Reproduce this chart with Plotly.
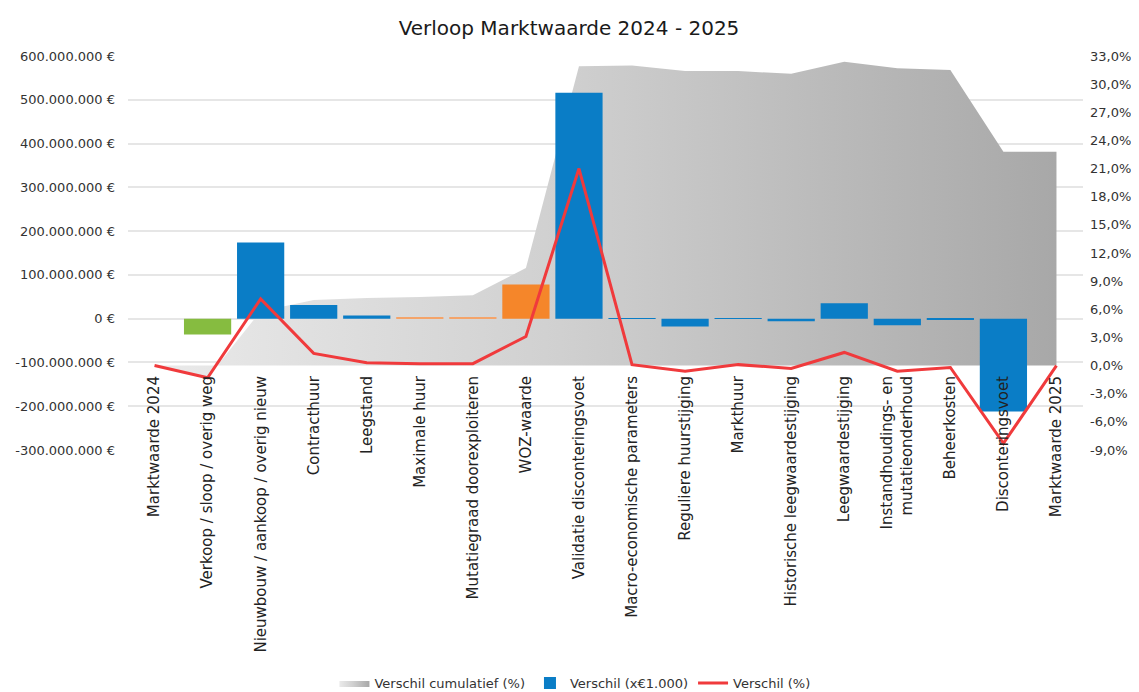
import plotly.graph_objects as go

categories = [
    "Marktwaarde 2024",
    "Verkoop / sloop / overig weg",
    "Nieuwbouw / aankoop / overig nieuw",
    "Contracthuur",
    "Leegstand",
    "Maximale huur",
    "Mutatiegraad doorexploiteren",
    "WOZ-waarde",
    "Validatie disconteringsvoet",
    "Macro-economische parameters",
    "Reguliere huurstijging",
    "Markthuur",
    "Historische leegwaardestijging",
    "Leegwaardestijging",
    "Instandhoudings- en<br>mutatieonderhoud",
    "Beheerkosten",
    "Disconteringsvoet",
    "Marktwaarde 2025",
]

verschil_eur = [0, -36e6, 174e6, 31e6, 7.5e6, 4e6, 4e6, 78e6, 516e6, 1.5e6,
                -18e6, -0.5e6, -6e6, 35e6, -15e6, -3e6, -212e6, 0]
verschil_pct = [0.0, -1.3, 7.1, 1.3, 0.3, 0.2, 0.2, 3.1, 21.0, 0.1,
                -0.6, 0.1, -0.3, 1.4, -0.6, -0.2, -8.3, 0.0]
cumulatief_pct = [0.0, -1.3, 5.8, 7.0, 7.2, 7.3, 7.5, 10.4, 31.9, 32.0,
                  31.4, 31.4, 31.1, 32.4, 31.7, 31.5, 22.8, 22.8]

bar_colors = ["#0A7DC6", "#86BC40", "#0A7DC6", "#0A7DC6", "#0A7DC6", "#F4A46A",
              "#F4A46A", "#F5862A", "#0A7DC6", "#0A7DC6", "#0A7DC6", "#0A7DC6",
              "#0A7DC6", "#0A7DC6", "#0A7DC6", "#0A7DC6", "#0A7DC6", "#0A7DC6"]

left_vals = [-300e6, -200e6, -100e6, 0, 100e6, 200e6, 300e6, 400e6, 500e6, 600e6]
left_text = ["-300.000.000 €", "-200.000.000 €", "-100.000.000 €", "0 €",
             "100.000.000 €", "200.000.000 €", "300.000.000 €", "400.000.000 €",
             "500.000.000 €", "600.000.000 €"]
right_vals = list(range(-9, 34, 3))
right_text = [f"{v},0%" for v in right_vals]

FONT = "DejaVu Sans"
W, H = 1131, 684   # page body has an 8px margin

fig = go.Figure()

fig.add_trace(go.Scatter(
    x=categories, y=cumulatief_pct, yaxis="y", name="Verschil cumulatief (%)",
    mode="lines", line=dict(width=0, color="#c8c8c8"), fill="tozeroy",
    fillgradient=dict(type="horizontal",
                      colorscale=[[0, "#eaeaea"], [0.45, "#d0d0d0"], [1, "#a8a8a8"]]),
    hoverinfo="skip",
))

fig.add_trace(go.Bar(
    x=categories, y=verschil_eur, yaxis="y2", name="Verschil (x€1.000)",
    marker=dict(color=bar_colors, line=dict(width=0)),
))

fig.add_trace(go.Scatter(
    x=categories, y=verschil_pct, yaxis="y3", name="Verschil (%)",
    mode="lines", line=dict(color="#F03A3C", width=3),
))

fig.update_layout(
    width=W, height=H,
    paper_bgcolor="white", plot_bgcolor="white",
    margin=dict(l=120, r=56, t=48, b=242, autoexpand=False),
    font=dict(family=FONT, color="#333333"),
    title=dict(text="Verloop Marktwaarde 2024 - 2025", x=(569 - 8) / W, xref="container",
               xanchor="center", y=1 - 20 / H, yanchor="middle",
               font=dict(size=20, color="#1a1a1a", family=FONT)),
    bargap=0.11,
    showlegend=True,
    legend=dict(orientation="h", x=0.468, xanchor="center",
                y=(442 - 675) / 394, yanchor="middle",
                font=dict(size=13, color="#333333", family=FONT), traceorder="normal",
                itemwidth=30),
    xaxis=dict(type="category", anchor="free", position=(450 - 366) / 394,
               showgrid=False, showline=False, zeroline=False, ticks="",
               tickangle=-90, tickfont=dict(size=15, family=FONT, color="#222222"),
               ticklabelstandoff=6, automargin=False),
    yaxis=dict(side="right", range=[-9, 33], tickvals=right_vals, ticktext=right_text,
               showgrid=False, zeroline=False, showline=False,
               tickfont=dict(size=13, family=FONT, color="#333333"),
               ticklabelstandoff=6, automargin=False),
    yaxis2=dict(side="left", overlaying="y", range=[-300e6, 600e6], tickvals=left_vals,
                ticktext=left_text, showgrid=True, gridcolor="#e6e6e6", gridwidth=1.5,
                zeroline=False, showline=False,
                tickfont=dict(size=13, family=FONT, color="#333333"),
                ticklabelstandoff=12, automargin=False),
    yaxis3=dict(overlaying="y", range=[-9, 33], visible=False),
)

fig.write_html("out.html")
